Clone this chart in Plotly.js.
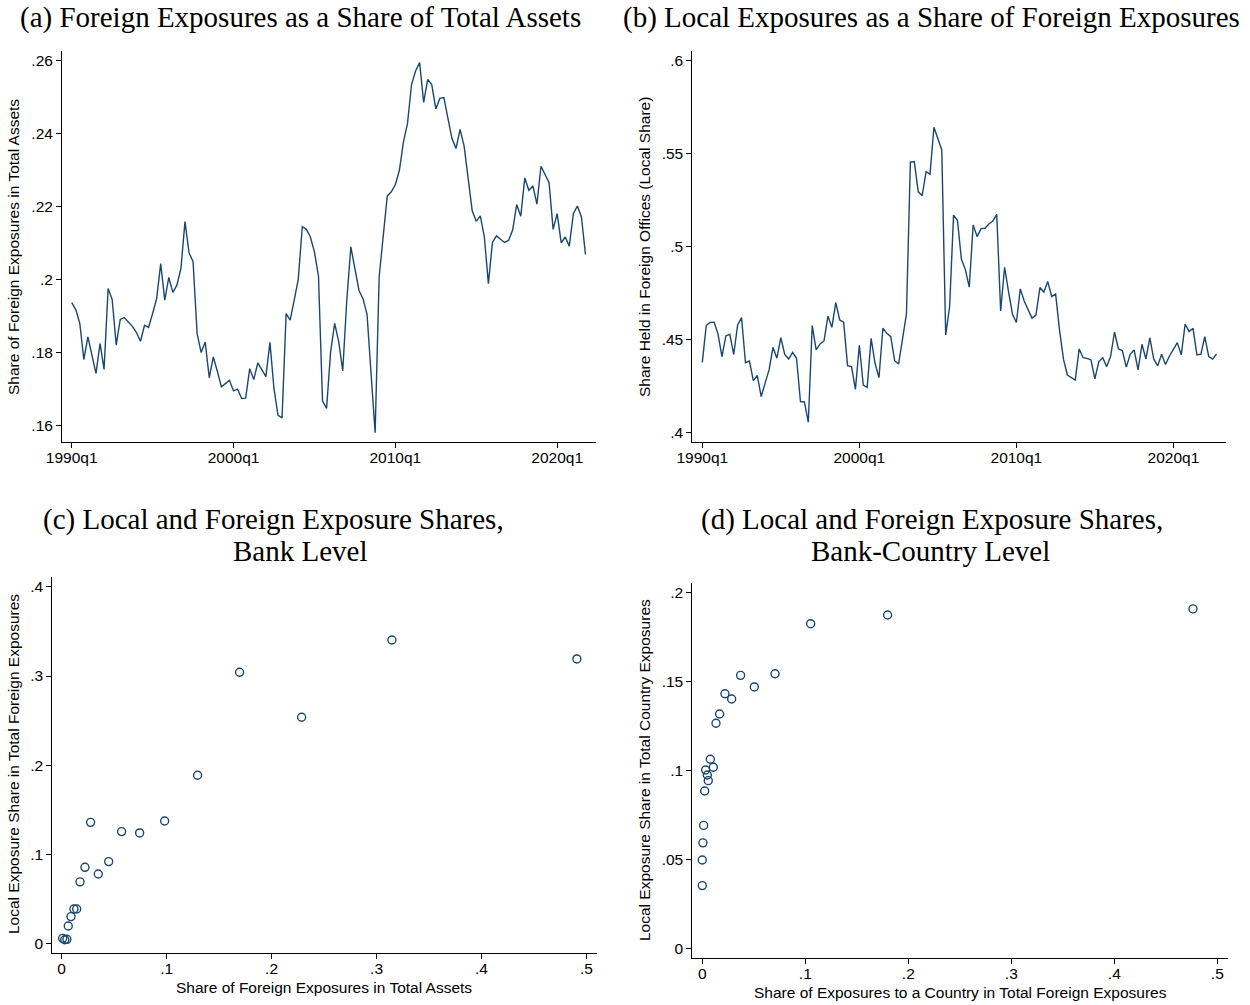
<!DOCTYPE html>
<html>
<head>
<meta charset="utf-8">
<script src="https://cdn.plot.ly/plotly-3.0.1.min.js"></script>
<style>html,body{margin:0;padding:0;background:#fff;}#chart{width:1250px;height:1005px;}</style>
</head>
<body>
<div id="chart"></div>
<script>
// ---- Data ----
const quarterTickVals = [0, 40, 80, 120];
const quarterTickText = ["1990q1", "2000q1", "2010q1", "2020q1"];

// (a) Foreign exposures / total assets, quarterly from 1990q1
const foreignShare = [
0.1936,0.1917,0.1879,0.1780,0.1842,0.1787,0.1742,0.1824,0.1753,0.1975,
0.1945,0.1820,0.1890,0.1895,0.1883,0.1871,0.1854,0.1830,0.1874,0.1868,
0.1906,0.1947,0.2043,0.1943,0.2005,0.1964,0.1984,0.2030,0.2158,0.2073,
0.2048,0.1851,0.1799,0.1828,0.1730,0.1787,0.1748,0.1705,0.1714,0.1723,
0.1694,0.1699,0.1673,0.1674,0.1755,0.1725,0.1771,0.1751,0.1733,0.1827,
0.1700,0.1627,0.1620,0.1906,0.1888,0.1943,0.2000,0.2144,0.2137,0.2116,
0.2075,0.2009,0.1666,0.1646,0.1801,0.1879,0.1829,0.1749,0.1943,0.2089,
0.2034,0.1970,0.1947,0.1904,0.1742,0.1579,0.2007,0.2116,0.2228,0.2240,
0.2260,0.2299,0.2377,0.2427,0.2534,0.2571,0.2594,0.2485,0.2548,0.2534,
0.2467,0.2496,0.2498,0.2441,0.2386,0.2359,0.2411,0.2365,0.2281,0.2188,
0.2159,0.2174,0.2116,0.1988,0.2101,0.2119,0.2110,0.2101,0.2107,0.2135,
0.2205,0.2173,0.2278,0.2244,0.2256,0.2206,0.2310,0.2288,0.2265,0.2137,
0.2180,0.2100,0.2116,0.2091,0.2180,0.2201,0.2171,0.2068];

// (b) Local exposures / foreign exposures, quarterly from 1990q1
const localShare = [
0.4376,0.4574,0.4590,0.4592,0.4529,0.4407,0.4518,0.4527,0.4419,0.4577,
0.4616,0.4374,0.4383,0.4278,0.4306,0.4192,0.4264,0.4335,0.4457,0.4398,
0.4509,0.4419,0.4394,0.4430,0.4398,0.4165,0.4163,0.4054,0.4574,0.4443,
0.4475,0.4491,0.4625,0.4564,0.4697,0.4604,0.4592,0.4358,0.4353,0.4231,
0.4468,0.4254,0.4242,0.4505,0.4371,0.4294,0.4559,0.4532,0.4514,0.4385,
0.4367,0.4496,0.4636,0.5452,0.5455,0.5294,0.5272,0.5401,0.5387,0.5640,
0.5575,0.5518,0.4523,0.4676,0.5168,0.5138,0.4930,0.4876,0.4780,0.5115,
0.5052,0.5095,0.5097,0.5120,0.5136,0.5172,0.4652,0.4887,0.4756,0.4636,
0.4590,0.4771,0.4706,0.4658,0.4613,0.4631,0.4778,0.4753,0.4810,0.4729,
0.4744,0.4548,0.4393,0.4308,0.4294,0.4281,0.4448,0.4401,0.4397,0.4389,
0.4287,0.4380,0.4401,0.4353,0.4407,0.4539,0.4448,0.4439,0.4350,0.4419,
0.4443,0.4335,0.4473,0.4394,0.4507,0.4393,0.4357,0.4419,0.4364,0.4410,
0.4446,0.4482,0.4416,0.4582,0.4541,0.4559,0.4416,0.4420,0.4514,0.4407,
0.4393,0.4421];

// (c) Bank level bins
const bankForeignShare = [0.001,0.003,0.005,0.0063,0.0089,0.0117,0.0143,0.0175,0.0222,0.0276,0.0349,0.0448,0.0571,0.0743,0.0981,0.1295,0.1695,0.2286,0.3146,0.4908];
const bankLocalShare   = [0.0056,0.004,0.0045,0.0195,0.030,0.0385,0.0385,0.069,0.0853,0.1358,0.0778,0.0917,0.1254,0.1239,0.1373,0.1886,0.3042,0.2537,0.3405,0.3192];

// (d) Bank-country level bins
const countryExpShare = [0.0,0.0,0.0006,0.0013,0.0023,0.0032,0.0049,0.0058,0.0078,0.0107,0.0133,0.0168,0.022,0.0285,0.0372,0.0505,0.0706,0.1052,0.1799,0.4764];
const countryLocalShare = [0.0354,0.0498,0.0594,0.0692,0.0885,0.1003,0.0975,0.0943,0.1063,0.1018,0.1265,0.1317,0.1431,0.1401,0.1534,0.1469,0.1543,0.1824,0.1873,0.1907];

// ---- Build ----
const W = 1250, H = 1005;
const navy = '#1a476f';
const px = v => v / W;
const py = v => 1 - v / H;

const qa = foreignShare.map((_, i) => i);
const qb = localShare.map((_, i) => i);

const traces = [
  {x: qa, y: foreignShare, xaxis: 'x', yaxis: 'y', type: 'scatter', mode: 'lines',
   line: {color: navy, width: 1.4}, hoverinfo: 'skip'},
  {x: qb, y: localShare, xaxis: 'x2', yaxis: 'y2', type: 'scatter', mode: 'lines',
   line: {color: navy, width: 1.4}, hoverinfo: 'skip'},
  {x: bankForeignShare, y: bankLocalShare, xaxis: 'x3', yaxis: 'y3', type: 'scatter', mode: 'markers',
   marker: {symbol: 'circle-open', size: 8, color: navy, line: {width: 1.4, color: navy}}, hoverinfo: 'skip'},
  {x: countryExpShare, y: countryLocalShare, xaxis: 'x4', yaxis: 'y4', type: 'scatter', mode: 'markers',
   marker: {symbol: 'circle-open', size: 8, color: navy, line: {width: 1.4, color: navy}}, hoverinfo: 'skip'}
];

const tickFont = {family: 'Liberation Sans, Arial, sans-serif', size: 15.5, color: '#000'};
function ax(anchor, domain, range, tickvals, ticktext, standoff) {
  return {anchor: anchor, domain: domain, range: range, tickvals: tickvals, ticktext: ticktext,
    showline: true, linecolor: '#000', linewidth: 1, ticks: 'outside', ticklen: 5,
    tickwidth: 1, tickcolor: '#000', showgrid: false, zeroline: false, mirror: false,
    tickfont: tickFont, fixedrange: true, ticklabelstandoff: standoff || 0};
}

const layout = {
  width: W, height: H, margin: {l: 0, r: 0, t: 0, b: 0},
  paper_bgcolor: '#fff', plot_bgcolor: '#fff', showlegend: false,
  xaxis:  ax('y',  [px(62), px(596)], [-2.4, 129.6], quarterTickVals, quarterTickText, -4),
  yaxis:  ax('x',  [py(442.3), py(51)], [0.1553, 0.2626], [0.16,0.18,0.2,0.22,0.24,0.26], ['.16','.18','.2','.22','.24','.26']),
  xaxis2: ax('y2', [px(692.3), px(1226)], [-2.55, 133.4], quarterTickVals, quarterTickText, -4),
  yaxis2: ax('x2', [py(442.3), py(51)], [0.3946, 0.605], [0.4,0.45,0.5,0.55,0.6], ['.4','.45','.5','.55','.6']),
  xaxis3: ax('y3', [px(52.3), px(597)], [-0.0089, 0.51], [0,0.1,0.2,0.3,0.4,0.5], ['0','.1','.2','.3','.4','.5'], -4),
  yaxis3: ax('x3', [py(953.3), py(576.7)], [-0.0112, 0.4115], [0,0.1,0.2,0.3,0.4], ['0','.1','.2','.3','.4']),
  xaxis4: ax('y4', [px(692.3), px(1228)], [-0.0097, 0.5104], [0,0.1,0.2,0.3,0.4,0.5], ['0','.1','.2','.3','.4','.5'], -4),
  yaxis4: ax('x4', [py(958.3), py(582.7)], [-0.0054, 0.2054], [0,0.05,0.1,0.15,0.2], ['0','.05','.1','.15','.2']),
  annotations: []
};

const titleFont = {family: 'Liberation Serif, Times New Roman, serif', size: 29, color: '#000'};
const axTitleFont = {family: 'Liberation Sans, Arial, sans-serif', size: 15.5, color: '#000'};
function ann(text, x, y, font, angle) {
  layout.annotations.push({text: text, xref: 'paper', yref: 'paper', x: px(x), y: py(y),
    xanchor: 'center', yanchor: 'middle', showarrow: false, font: font, textangle: angle || 0});
}
ann('(a) Foreign Exposures as a Share of Total Assets', 300, 18, titleFont);
ann('(b) Local Exposures as a Share of Foreign Exposures', 931, 18, titleFont);
ann('(c) Local and Foreign Exposure Shares,', 273, 519, titleFont);
ann('Bank Level', 300, 551, titleFont);
ann('(d) Local and Foreign Exposure Shares,', 932, 519, titleFont);
ann('Bank-Country Level', 930, 551, titleFont);

ann('Share of Foreign Exposures in Total Assets', 13, 247, axTitleFont, -90);
ann('Share Held in Foreign Offices (Local Share)', 644, 247, axTitleFont, -90);
ann('Local Exposure Share in Total Foreign Exposures', 13, 764, axTitleFont, -90);
ann('Local Exposure Share in Total Country Exposures', 644, 770, axTitleFont, -90);
ann('Share of Foreign Exposures in Total Assets', 324, 987, axTitleFont);
ann('Share of Exposures to a Country in Total Foreign Exposures', 960, 992, axTitleFont);

Plotly.newPlot('chart', traces, layout, {staticPlot: true, displayModeBar: false});
</script>
</body>
</html>
